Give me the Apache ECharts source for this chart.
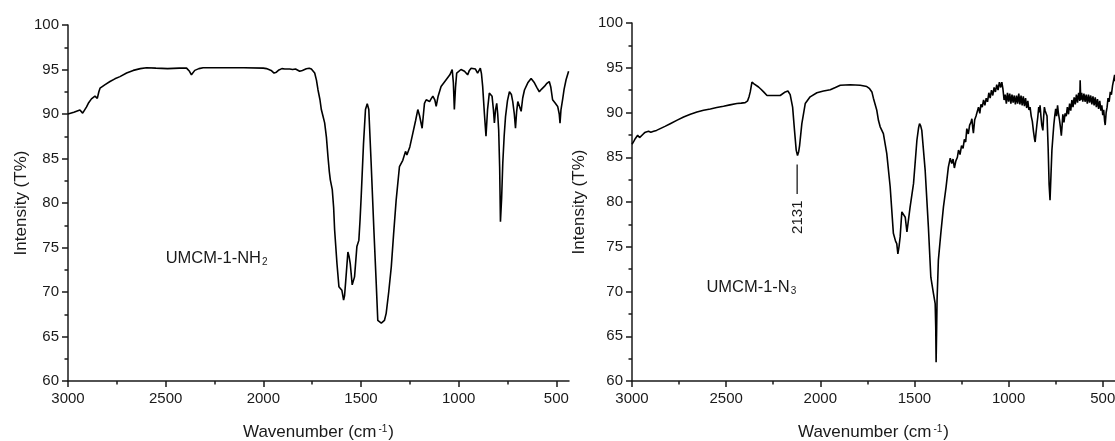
<!DOCTYPE html>
<html>
<head>
<meta charset="utf-8">
<script src="https://cdn.jsdelivr.net/npm/echarts@6/dist/echarts.min.js"></script>
<style>
html,body{margin:0;padding:0;background:#fff;}
#chart{width:1115px;height:441px;}
</style>
</head>
<body>
<div id="chart"></div>
<script>
// ---------------- DATA ----------------
const xMajorTicks = [3000, 2500, 2000, 1500, 1000, 500];
const xMinorTicks = [2750, 2250, 1750, 1250, 750];
const yRange = [60, 100];
const xRange = [435, 3000];

const panelNames = ['UMCM-1-NH', 'UMCM-1-N'];
const panelSubscripts = ['2', '3'];
const peakLabel = '2131';

// UMCM-1-NH2 spectrum: [wavenumber (cm-1), T%]
const nh2Spectrum = [
[3000,90.0],[2970,90.2],[2939,90.45],[2925,90.1],[2918,89.9],[2905,90.8],[2896,91.2],[2880,91.7],[2862,92.0],[2850,91.75],[2842,92.5],[2836,92.9],[2810,93.3],[2785,93.65],[2760,93.95],[2734,94.2],[2700,94.6],[2666,94.9],[2630,95.1],[2598,95.2],[2550,95.15],[2490,95.1],[2430,95.15],[2393,95.15],[2378,94.8],[2368,94.4],[2360,94.6],[2351,94.9],[2330,95.1],[2308,95.2],[2200,95.2],[2100,95.2],[2000,95.15],[1984,95.1],[1960,94.9],[1945,94.6],[1933,94.7],[1920,94.95],[1905,95.1],[1890,95.05],[1880,95.15],[1865,95.05],[1850,95.0],[1835,95.05],[1814,94.8],[1800,94.9],[1780,95.08],[1765,95.15],[1754,95.05],[1745,94.9],[1737,94.6],[1728,93.8],[1720,92.7],[1710,91.6],[1703,90.5],[1695,89.8],[1686,89.0],[1677,87.4],[1669,85.2],[1662,83.5],[1657,82.6],[1647,81.5],[1640,79.5],[1635,77.0],[1623,73.2],[1613,70.6],[1606,70.8],[1598,70.2],[1589,69.1],[1584,69.6],[1579,71.0],[1567,74.5],[1561,74.0],[1555,73.2],[1545,70.8],[1533,71.7],[1521,75.1],[1511,75.8],[1505,78.0],[1499,80.7],[1487,86.7],[1477,90.5],[1468,91.15],[1460,90.5],[1448,84.5],[1434,77.0],[1422,71.0],[1414,66.8],[1405,66.7],[1396,66.5],[1388,66.3],[1380,66.8],[1371,67.6],[1358,70.0],[1345,72.8],[1333,76.5],[1320,80.3],[1303,84.1],[1286,84.8],[1272,85.8],[1265,85.4],[1260,85.2],[1250,86.3],[1235,87.8],[1220,89.3],[1209,90.5],[1200,89.8],[1187,88.4],[1175,91.2],[1166,91.6],[1149,91.4],[1141,91.7],[1132,92.0],[1122,91.6],[1115,90.85],[1105,92.0],[1090,93.1],[1064,93.85],[1045,94.4],[1033,95.0],[1027,93.5],[1022,90.5],[1016,93.0],[1010,94.6],[988,95.0],[970,94.8],[954,94.4],[945,94.9],[936,95.15],[914,95.05],[903,94.6],[889,95.15],[883,94.5],[877,93.1],[868,90.0],[860,87.5],[852,90.5],[843,92.35],[835,92.3],[829,92.0],[822,90.5],[817,89.0],[811,90.5],[805,91.2],[800,90.0],[795,88.2],[790,84.0],[786,77.9],[780,80.5],[774,84.5],[767,87.5],[760,89.7],[750,91.5],[740,92.5],[730,92.2],[723,91.4],[715,90.0],[709,88.4],[703,90.3],[697,91.4],[690,91.2],[680,90.3],[672,91.8],[663,92.7],[646,93.5],[629,94.0],[620,93.9],[612,93.5],[600,93.0],[587,92.5],[575,92.8],[561,93.1],[550,93.4],[536,93.65],[528,93.0],[519,91.6],[505,91.2],[493,90.85],[485,90.0],[481,88.97],[476,90.5],[468,91.6],[460,92.8],[450,93.85],[437,94.8]
];

// UMCM-1-N3 spectrum: [wavenumber (cm-1), T%]
const n3Spectrum = [
[3000,86.45],[2990,86.8],[2982,87.1],[2970,87.45],[2960,87.2],[2952,87.26],[2940,87.6],[2929,87.8],[2912,87.9],[2900,87.8],[2885,87.9],[2870,88.0],[2850,88.2],[2825,88.45],[2797,88.75],[2760,89.15],[2726,89.5],[2690,89.8],[2655,90.05],[2620,90.25],[2584,90.4],[2550,90.55],[2514,90.7],[2480,90.85],[2443,91.0],[2420,91.05],[2399,91.1],[2386,91.3],[2378,91.8],[2372,92.3],[2363,93.4],[2358,93.6],[2352,93.2],[2346,93.0],[2328,92.85],[2315,92.6],[2301,92.3],[2283,91.9],[2248,91.9],[2213,91.9],[2186,92.3],[2172,92.4],[2165,92.3],[2160,92.0],[2147,90.6],[2137,88.0],[2128,85.8],[2121,85.2],[2115,85.6],[2110,86.3],[2098,88.75],[2080,91.0],[2054,91.75],[2018,92.2],[1983,92.4],[1947,92.55],[1920,92.8],[1894,93.05],[1841,93.1],[1788,93.05],[1753,92.9],[1740,92.7],[1726,92.3],[1718,91.6],[1700,90.25],[1691,89.1],[1682,88.4],[1665,87.65],[1647,85.4],[1629,81.7],[1612,76.5],[1600,75.6],[1594,75.35],[1588,74.2],[1582,75.0],[1576,76.1],[1567,78.9],[1558,78.8],[1549,78.3],[1540,76.65],[1523,79.45],[1505,82.05],[1487,86.9],[1478,88.3],[1473,88.75],[1467,88.5],[1461,88.0],[1443,83.5],[1426,77.2],[1413,71.6],[1399,69.75],[1390,68.65],[1387,66.0],[1385,62.1],[1382,66.0],[1380,69.0],[1373,73.5],[1360,76.5],[1346,79.45],[1332,81.7],[1320,83.9],
[1310,84.9],[1302,84.3],[1295,84.8],[1288,83.8],[1280,84.6],[1272,85.0],[1266,85.8],[1258,85.3],[1250,86.3],[1242,86.0],[1235,87.0],[1228,86.7],[1222,88.2],[1214,87.6],[1207,88.6],[1200,88.9],[1195,89.3],[1190,88.2],[1187,87.7],[1180,89.2],[1173,89.6],[1166,89.6],[1160,90.6],[1153,89.9],[1147,90.9],[1140,90.6],[1133,91.4],[1126,90.8],[1119,91.6],[1112,91.2],[1105,92.2],[1098,91.6],[1091,92.5],[1084,91.9],[1077,92.8],[1070,92.3],[1063,93.1],[1056,92.5],[1049,93.4],[1042,92.8],[1036,93.4],[1030,92.6],[1024,91.4],[1018,92.0],[1012,91.0],[1006,92.2],[1000,91.2],[994,92.1],[988,91.0],[982,92.0],[976,91.1],[970,91.9],[964,90.9],[958,91.9],[952,91.0],[946,92.1],[940,90.9],[934,91.9],[928,90.8],[922,91.8],[916,90.7],[910,91.6],[904,90.5],[898,91.3],[892,90.3],[886,90.6],[880,89.6],[874,89.0],[868,87.9],[862,87.0],[859,86.7],[855,87.6],[850,88.6],[845,89.5],[840,90.6],[836,90.0],[833,90.8],[828,89.5],[824,88.6],[818,88.0],[814,89.5],[810,90.6],[806,90.2],[800,90.3],[796,89.6],[790,86.0],[785,82.0],[780,80.2],[775,83.0],[770,85.8],[765,87.2],[760,88.6],[755,89.6],[750,90.4],[745,89.6],[740,90.8],[736,90.0],[730,89.2],[725,88.4],[720,87.4],[716,88.5],[712,89.8],[706,88.9],[700,89.9],[694,89.6],[688,90.6],[682,89.8],[676,91.0],[670,90.2],[664,91.4],[658,90.6],[652,91.7],[646,90.9],[640,92.0],[634,91.1],[628,92.2],[622,91.3],[620,93.6],[617,91.4],[612,92.2],[606,91.2],[600,92.1],[594,91.2],[588,92.0],[582,91.0],[576,92.0],[570,91.1],[564,91.9],[558,90.9],[552,91.8],[546,90.8],[540,91.7],[534,90.6],[528,91.5],[522,90.4],[516,91.3],[510,90.2],[505,90.8],[500,89.7],[495,90.3],[490,89.0],[487,88.6],[482,90.0],[477,90.6],[472,91.6],[466,91.2],[460,92.3],[454,92.0],[448,93.0],[442,93.0],[437,94.2],[435,93.5]
];

// ---------------- STYLE / LAYOUT ----------------
const FONT = '"Liberation Sans", Arial, Helvetica, sans-serif';
const INK = '#1a1a1a';
const grids = [
  {left: 68, top: 25, width: 501, height: 356, outerBoundsMode: 'none', containLabel: false},
  {left: 632, top: 23, width: 483, height: 358, outerBoundsMode: 'none', containLabel: false}
];
const yNameGaps = [35, 44];
const plainNumber = v => String(v);

function xAxesFor(gi) {
  const common = {
    type: 'value', gridIndex: gi, min: xRange[0], max: xRange[1], inverse: true,
    position: 'bottom', splitLine: {show: false}
  };
  return [
    Object.assign({}, common, {
      axisLine: {show: true, onZero: false, lineStyle: {color: INK, width: 1.5}},
      axisTick: {show: true, inside: false, length: 6, customValues: xMajorTicks, lineStyle: {color: INK, width: 1.5}},
      axisLabel: {show: true, customValues: xMajorTicks, formatter: plainNumber, fontSize: 15, color: INK, fontFamily: FONT, margin: 10, hideOverlap: false},
      name: 'Wavenumber (cm{sup|-1})',
      nameLocation: 'middle', nameGap: 43,
      nameTextStyle: {fontSize: 17, color: INK, fontFamily: FONT,
        rich: {sup: {fontSize: 10, color: INK, fontFamily: FONT, verticalAlign: 'top', padding: [0, 1, 0, 2]}}}
    }),
    Object.assign({}, common, {
      axisLine: {show: false},
      axisTick: {show: true, inside: false, length: 3.5, customValues: xMinorTicks, lineStyle: {color: INK, width: 1.5}},
      axisLabel: {show: false, customValues: xMinorTicks}
    })
  ];
}

function yAxisFor(gi) {
  return {
    type: 'value', gridIndex: gi, min: yRange[0], max: yRange[1], interval: 5,
    axisLine: {show: true, onZero: false, lineStyle: {color: INK, width: 1.5}},
    axisTick: {show: true, inside: false, length: 6, lineStyle: {color: INK, width: 1.5}},
    minorTick: {show: true, splitNumber: 2, length: 3.5, lineStyle: {color: INK, width: 1.5}},
    axisLabel: {fontSize: 15, color: INK, fontFamily: FONT, margin: 9, formatter: plainNumber},
    splitLine: {show: false}, minorSplitLine: {show: false},
    name: 'Intensity (T%)', nameLocation: 'middle', nameGap: yNameGaps[gi],
    nameTextStyle: {fontSize: 17, color: INK, fontFamily: FONT}
  };
}

function seriesFor(data, gi) {
  return {
    type: 'line', data: data, xAxisIndex: gi * 2, yAxisIndex: gi,
    symbol: 'none', showSymbol: false, smooth: false, silent: true,
    lineStyle: {color: '#000', width: 1.6}
  };
}

const chart = echarts.init(document.getElementById('chart'), null, {renderer: 'canvas'});
chart.setOption({
  animation: false,
  backgroundColor: '#fff',
  grid: grids,
  xAxis: [].concat(xAxesFor(0), xAxesFor(1)),
  yAxis: [yAxisFor(0), yAxisFor(1)],
  series: [seriesFor(nh2Spectrum, 0), seriesFor(n3Spectrum, 1)]
});

// ---------------- ANNOTATIONS ----------------
const labelAnchors = [[2500, 73.75], [2605, 70.4]];
const peakMarkX = 2123;
const peakLine = [84.2, 80.9];
const peakTextY = 78.3;

const px = (si, p) => chart.convertToPixel({seriesIndex: si}, p);
const graphics = [];
for (let i = 0; i < 2; i++) {
  const p = px(i, labelAnchors[i]);
  graphics.push({
    type: 'text', x: p[0], y: p[1], silent: true,
    style: {
      text: panelNames[i] + '{sub|' + panelSubscripts[i] + '}',
      fontSize: 16.5, fontFamily: FONT, fill: INK, align: 'left', verticalAlign: 'middle',
      rich: {sub: {fontSize: 10, fontFamily: FONT, fill: INK, verticalAlign: 'bottom', padding: [7, 0, 0, 1]}}
    }
  });
}
const a = px(1, [peakMarkX, peakLine[0]]);
const b = px(1, [peakMarkX, peakLine[1]]);
graphics.push({type: 'line', silent: true, shape: {x1: a[0], y1: a[1], x2: b[0], y2: b[1]}, style: {stroke: INK, lineWidth: 1.3}});
const t = px(1, [peakMarkX, peakTextY]);
graphics.push({
  type: 'text', x: t[0] + 1, y: t[1], rotation: Math.PI / 2, silent: true,
  style: {text: peakLabel, fontSize: 15, fontFamily: FONT, fill: INK, align: 'center', verticalAlign: 'middle'}
});
chart.setOption({graphic: graphics});
</script>
</body>
</html>
